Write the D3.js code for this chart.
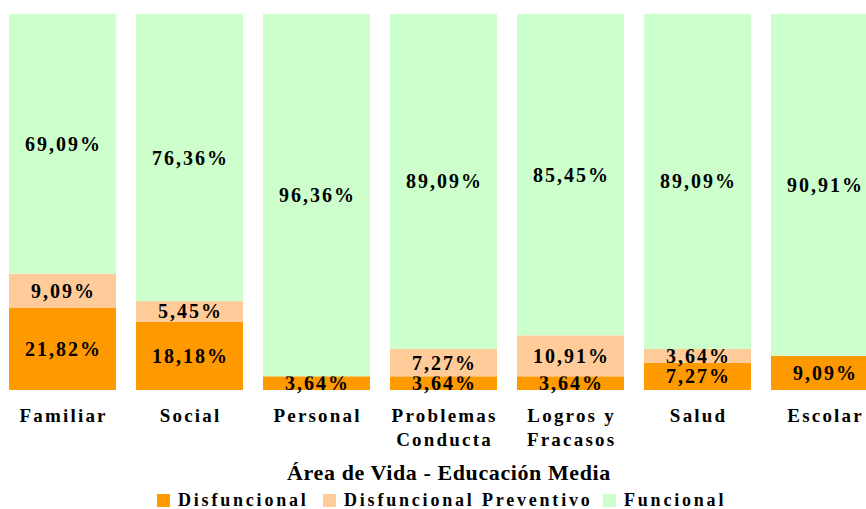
<!DOCTYPE html>
<html>
<head>
<meta charset="utf-8">
<script src="https://cdn.jsdelivr.net/npm/d3@7"></script>
<style>
  body { margin: 0; background: #fff; }
  svg text { font-family: "Liberation Serif", "Times New Roman", serif; font-weight: bold; }
</style>
</head>
<body>
<svg id="chart" width="866" height="509"></svg>
<script>
const categories = [["Familiar"], ["Social"], ["Personal"], ["Problemas", "Conducta"], ["Logros y", "Fracasos"], ["Salud"], ["Escolar"]];
const disfuncional = [21.82, 18.18, 3.64, 3.64, 3.64, 7.27, 9.09];
const preventivo = [9.09, 5.45, 0, 7.27, 10.91, 3.64, 0];
const funcional = [69.09, 76.36, 96.36, 89.09, 85.45, 89.09, 90.91];
const seriesNames = ["Disfuncional", "Disfuncional Preventivo", "Funcional"];
const seriesColors = ["#FF9900", "#FFCC99", "#CCFFCC"];
const title = "Área de Vida - Educación Media";

const svg = d3.select('#chart');

const rows = categories.map((c, i) => ({
    key: c.join(' '),
    lines: c,
    s0: disfuncional[i],
    s1: preventivo[i],
    s2: funcional[i]
}));

const stack = d3.stack().keys(['s0', 's1', 's2'])(rows);

const xScale = d3.scaleBand()
    .domain(rows.map(d => d.key))
    .range([-1, 888])
    .paddingInner(0.1575)
    .paddingOuter(0.07875);

const yScale = d3.scaleLinear()
    .domain([0, 100])
    .range([390, 14]);

const fmt = v => d3.format('.2f')(v).replace('.', ',') + '%';

// bars
const layers = svg.append('g')
    .selectAll('g')
    .data(stack)
    .join('g')
    .attr('fill', (d, i) => seriesColors[i]);

layers.selectAll('rect')
    .data(d => d)
    .join('rect')
    .attr('x', d => xScale(d.data.key))
    .attr('y', d => yScale(d[1]))
    .attr('width', xScale.bandwidth())
    .attr('height', d => yScale(d[0]) - yScale(d[1]));

// value labels
layers.selectAll('text')
    .data(d => d.filter(p => p[1] - p[0] > 0))
    .join('text')
    .attr('x', d => xScale(d.data.key) + xScale.bandwidth() / 2 + 1)
    .attr('y', d => yScale((d[0] + d[1]) / 2))
    .attr('dy', '0.35em')
    .attr('text-anchor', 'middle')
    .attr('fill', '#000')
    .style('font-size', '20px')
    .style('letter-spacing', '2px')
    .text(d => fmt(d[1] - d[0]));

// category axis
const xAxis = d3.axisBottom(xScale).tickSize(0).tickFormat('');
const axisG = svg.append('g')
    .attr('transform', 'translate(0,390)')
    .call(xAxis);
axisG.select('.domain').remove();

axisG.selectAll('.tick')
    .each(function(d) {
        const row = rows.find(r => r.key === d);
        const t = d3.select(this).append('text')
            .attr('text-anchor', 'middle')
            .attr('fill', '#000')
            .style('font-size', '19px')
            .style('letter-spacing', '2.2px');
        row.lines.forEach((ln, j) => {
            t.append('tspan')
                .attr('x', 1.1)
                .attr('y', 32 + j * 24)
                .text(ln);
        });
    });

// axis title
svg.append('text')
    .attr('x', 449)
    .attr('y', 480)
    .attr('text-anchor', 'middle')
    .style('font-size', '22px')
    .style('letter-spacing', '0.6px')
    .text(title);

// legend
const legendX = [157, 323, 603];
const legend = svg.append('g')
    .selectAll('g')
    .data(seriesNames)
    .join('g')
    .attr('transform', (d, i) => `translate(${legendX[i]},494)`);

legend.append('rect')
    .attr('width', 13)
    .attr('height', 13)
    .attr('fill', (d, i) => seriesColors[i]);

legend.append('text')
    .attr('x', 21)
    .attr('y', 12)
    .style('font-size', '18px')
    .style('letter-spacing', '2.8px')
    .text(d => d);
</script>
</body>
</html>
